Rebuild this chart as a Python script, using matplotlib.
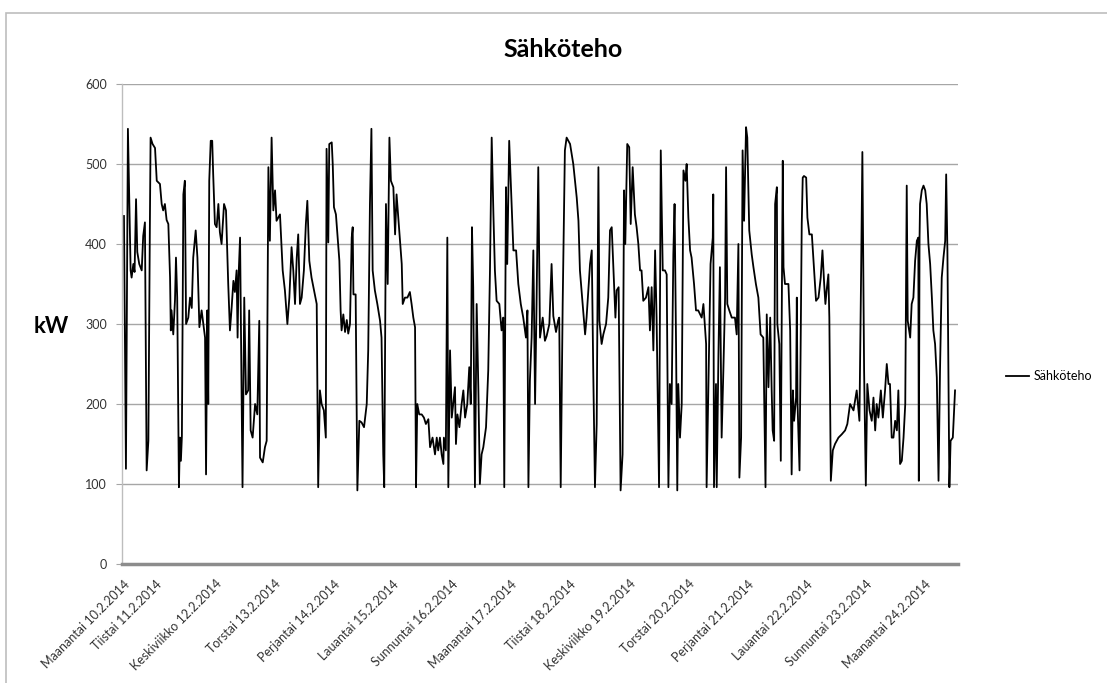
import matplotlib
matplotlib.use("Agg")
import matplotlib.pyplot as plt
from matplotlib.patches import Rectangle

# Electric power readings: hours since the first reading (Mon 10.2.2014 ~12:00) and power in kW
hours = [
    0.0, 0.8, 1.6, 2.7, 3.1, 3.8, 4.3, 4.9, 5.4, 6.2, 7.2, 7.8, 8.5, 9.2, 9.9, 10.5, 10.8, 11.6,
    12.6, 13.3, 14.6, 15.3, 15.9, 16.6, 17.3, 18.0, 18.7, 19.0, 19.3, 20.0, 20.7, 21.1, 21.6,
    22.3, 22.7, 23.1, 23.5, 24.1, 24.7, 25.2, 26.1, 26.8, 27.5, 28.1, 29.1, 29.8, 30.6, 31.5,
    32.2, 32.9, 33.3, 33.8, 34.2, 34.6, 35.2, 35.8, 36.2, 36.9, 37.6, 38.3, 38.9, 39.6, 40.6,
    41.4, 42.3, 43.0, 43.7, 44.4, 45.0, 45.7, 46.1, 46.5, 47.1, 48.1, 48.8, 49.5, 50.4, 50.8,
    51.4, 52.2, 53.2, 54.1, 54.9, 55.2, 56.3, 57.2, 57.9, 58.6, 59.2, 59.9, 60.6, 61.3, 61.9,
    63.3, 64.4, 65.3, 66.3, 67.1, 68.0, 68.7, 69.4, 70.1, 70.7, 71.4, 72.1, 73.0, 73.8, 74.4,
    75.2, 76.1, 77.1, 78.2, 78.8, 79.5, 80.2, 81.1, 81.9,
    82.2, 82.9, 83.3, 84.3, 84.7, 85.2, 86.0, 86.6, 87.4, 87.9, 88.3, 89.0, 89.7, 90.4, 91.0,
    91.7, 92.4, 92.8, 93.1, 94.0, 94.7, 95.5, 96.4, 97.4, 98.5, 99.1, 99.8, 100.4, 100.9,
    101.8, 102.8, 103.9, 104.5, 105.2, 105.6, 106.3, 107.0, 107.7, 108.3, 109.3, 110.0, 110.6,
    111.3, 112.0, 112.7, 113.1, 114.0, 115.0, 116.0, 116.7, 117.4, 118.1, 118.5, 119.0, 119.8,
    120.8, 121.7, 122.5, 123.5, 124.2, 125.2, 126.2, 126.9, 127.5, 128.2, 128.9, 129.6, 129.8,
    130.6, 131.2, 131.6, 132.3, 133.0, 133.6, 134.3, 134.7, 135.3, 136.1, 137.0, 137.7, 138.4,
    139.3, 140.1, 140.7, 141.2, 141.7, 142.4, 143.1, 143.8, 144.4, 145.1, 145.8, 146.9, 147.8,
    148.5, 149.2, 149.9, 150.5, 151.2, 152.3, 153.2, 153.9, 154.3, 155.0, 155.5, 156.3, 157.3,
    158.0, 159.1, 160.0, 161.0, 162.0, 163.1, 163.7, 164.1, 164.7, 165.4, 166.1, 166.8, 167.4,
    168.1, 168.8, 169.9, 170.8,
    171.5, 172.6, 173.5, 174.2, 175.3, 176.2, 176.6, 177.2, 178.0, 178.9, 179.6, 181.0, 182.3,
    183.7, 184.4, 185.0, 186.1, 187.1, 187.7, 189.1, 189.8, 190.4, 191.1, 191.8, 192.5, 192.9,
    193.8, 194.5, 195.6, 196.5, 197.2, 197.9, 198.6, 199.4, 199.9, 200.7, 201.5, 202.3, 202.9,
    203.4, 204.2, 205.0, 205.6, 206.4, 207.3, 208.0, 208.7, 209.4, 210.0, 210.7, 211.8, 212.8,
    213.4, 214.1, 214.8, 215.5, 216.1, 217.1, 217.8, 218.6, 219.5, 220.2, 220.9, 221.5, 222.2,
    222.9, 223.4, 224.0, 224.5, 224.9, 225.6, 226.3, 227.0, 227.8, 228.3, 229.0, 229.7, 230.3,
    231.3, 232.1, 233.0, 234.4, 235.1, 236.2, 236.4, 237.1, 238.0, 238.9, 239.1, 239.4, 240.2,
    240.5, 241.2, 241.8, 242.5, 243.2, 243.9, 244.3, 244.8, 245.6, 246.6, 247.9, 248.6, 249.3,
    249.7, 250.4, 251.0, 251.6, 252.4, 252.9, 253.7, 254.7, 255.4, 256.4, 257.4, 258.3, 259.4,
    260.3, 260.8, 261.5, 262.2, 262.8, 263.2, 263.8, 264.2, 264.9, 265.1, 265.9, 266.5, 267.3,
    267.6, 268.2, 269.6, 270.3, 270.9, 271.4, 271.9, 272.7, 273.0, 273.3, 274.1, 275.0, 275.4,
    275.9, 276.8, 277.3, 278.1, 279.1, 280.0, 280.8, 281.8, 282.7, 283.4, 284.1, 284.6, 285.1,
    285.8, 286.2, 286.8, 287.6, 288.5, 289.9, 291.2, 292.6, 293.5, 294.6, 296.0, 297.3, 298.4,
    299.1, 299.6, 300.3, 301.0, 301.6, 302.5, 303.4, 304.1, 304.8, 305.4, 306.1, 307.1, 307.9,
    308.8, 309.5, 310.2, 310.8, 311.5, 312.2, 312.9, 313.6, 314.2, 314.9, 315.6, 316.3, 317.0,
    317.6, 318.0, 319.0, 319.6, 320.3, 321.0, 321.7, 322.3, 322.5, 322.8, 323.0, 323.7, 324.4,
    325.1, 325.7, 326.4, 327.1, 327.8, 328.4, 329.1, 329.8, 330.5, 331.1, 331.8, 332.5, 333.2,
    333.6, 334.1, 334.9, 335.4, 336.3, 337.2,
]

kw = [
    435, 119, 544, 367, 358, 375, 365, 456, 390, 375, 367, 410, 427, 117, 154, 420, 533, 525,
    520, 479, 475, 450, 442, 450, 430, 425, 358, 292, 317, 287, 330, 383, 333,
    96, 158, 129, 160, 462, 479, 300, 308, 333, 320, 383, 417, 383, 296, 317,
    300, 283, 112, 317, 200, 479, 529, 529, 487, 425, 421, 450, 415, 400, 450,
    442, 350, 292, 321, 354, 340, 367, 283, 360, 408, 96, 333, 212, 217, 317,
    167, 158, 200, 187, 304, 133, 127, 146, 154, 496, 404, 533, 442, 467, 429,
    437, 367, 342, 300, 333, 396, 367, 325, 383, 412, 325, 333, 367, 425, 454,
    379, 358, 342, 325, 96, 217, 200, 192, 158,
    519, 402, 525, 527, 500, 446, 437, 412, 379, 317, 292, 312, 290, 305, 288,
    300, 408, 421, 337, 337, 92, 179, 177, 171, 200, 267, 450, 544, 367,
    342, 325, 304, 283, 137, 96, 450, 350, 533, 479, 471, 412, 462,
    433, 404, 375, 325, 333, 333, 340, 325, 308, 296, 96, 200, 187,
    187, 183, 175, 181, 146, 158, 137, 158, 142, 158, 137, 125, 158,
    142, 408, 96, 267, 183, 200, 221, 150, 187, 171, 200, 217, 183,
    200, 246, 200, 421, 346, 96, 325, 217, 100, 137, 146, 171, 242,
    367, 533, 437, 367, 329, 325, 292, 308, 96, 471, 375, 529, 450,
    392, 392, 350, 325, 308, 283, 317, 96, 229, 283, 392, 200, 325,
    496, 283, 308, 279,
    285, 300, 375, 310, 290, 305, 308, 96, 325, 517, 533, 525, 500,
    458, 429, 367, 325, 287, 308, 375, 392, 242, 96, 175, 496, 304,
    275, 287, 300, 333, 417, 421, 367, 308, 342, 346, 92, 137, 467,
    400, 525, 521, 425, 496, 437, 421, 400, 367, 367, 329, 333, 346,
    292, 346, 267, 392, 308, 96, 517, 367, 367, 362, 96, 225, 200,
    387, 450, 275, 92, 225, 158, 200, 492, 479, 500, 433, 392, 383,
    350, 317, 317, 308, 325, 275, 96, 221, 375, 408, 462, 96, 225,
    96, 262, 371, 158, 242, 333, 496, 325, 317, 308, 308, 287, 400,
    108, 158, 517, 429, 546, 533, 417, 387, 371, 350, 333, 287, 283,
    96, 312, 221, 308, 217, 167, 154, 450, 471, 300, 275, 129, 504,
    371, 350, 350, 292, 112, 217, 179, 208, 333, 200, 117, 425, 483,
    485, 483, 433, 412, 412, 367, 329, 333, 358, 392, 350, 325, 342,
    362, 308, 104, 142, 150, 158, 162, 167, 175, 200, 192, 217, 179,
    367, 515, 242, 98, 225, 192, 179, 208, 167, 200, 183, 217, 183,
    217, 250, 225, 225, 158, 158, 179, 167, 217, 125, 129, 158, 200,
    473, 304, 283, 325, 333, 379, 404, 408, 104, 408, 450, 467, 473,
    467, 450, 400, 375, 333, 292, 275, 233, 104, 242, 358, 383, 404,
    487, 392, 96, 154, 158, 217,
]

# Day labels and the hour at which each one sits on the category axis
day_labels = [
    "Maanantai 10.2.2014", "Tiistai 11.2.2014", "Keskiviikko 12.2.2014", "Torstai 13.2.2014",
    "Perjantai 14.2.2014", "Lauantai 15.2.2014", "Sunnuntai 16.2.2014", "Maanantai 17.2.2014",
    "Tiistai 18.2.2014", "Keskiviikko 19.2.2014", "Torstai 20.2.2014", "Perjantai 21.2.2014",
    "Lauantai 22.2.2014", "Sunnuntai 23.2.2014", "Maanantai 24.2.2014",
]
day_hours = [0, 13, 37, 61, 85, 109, 133, 157, 181, 205, 229, 253, 277, 301, 325]
y_ticks = [0, 100, 200, 300, 400, 500, 600]

FONT = ["Lato", "DejaVu Sans"]
plt.rcParams["font.family"] = FONT

W, H = 1107, 683
fig = plt.figure(figsize=(W / 100, H / 100), dpi=100)
fig.patch.set_facecolor("white")

# light frame around the chart area
fig.add_artist(Rectangle((6 / W, -0.02), 1.05, 1 - 13 / H + 0.02,
                         transform=fig.transFigure, fill=False,
                         edgecolor="#bdbdbd", linewidth=1.2))

ax = fig.add_axes([122 / W, 1 - 564 / H, (958 - 122) / W, (564 - 84) / H])
line, = ax.plot(hours, kw, color="black", linewidth=1.3, label="Sähköteho")

ax.set_ylim(0, 600)
ax.set_xlim(-0.8, 338.4)
ax.set_yticks(y_ticks)
ax.set_yticklabels([str(v) for v in y_ticks], fontsize=9, color="#333333")
ax.yaxis.grid(True, color="#a6a6a6", linewidth=1.0)
ax.set_axisbelow(True)
ax.tick_params(axis="y", length=4, color="#a6a6a6", pad=7)

ax.set_xticks(day_hours)
ax.set_xticklabels(day_labels, rotation=45, ha="right", va="top",
                   rotation_mode="anchor", fontsize=9, color="#333333")
ax.tick_params(axis="x", length=0, pad=10)

for side in ("top", "right"):
    ax.spines[side].set_visible(False)
ax.spines["left"].set_color("#bdbdbd")
ax.spines["left"].set_linewidth(1.0)
ax.spines["bottom"].set_color("#8c8c8c")
ax.spines["bottom"].set_linewidth(2.5)

fig.text(563 / W, 1 - 57 / H, "Sähköteho", ha="center", va="baseline",
         fontsize=18, fontweight="bold")
fig.text(51 / W, 1 - 333 / H, "kW", ha="center", va="baseline",
         fontsize=16, fontweight="bold")

fig.legend(handles=[line], labels=["Sähköteho"], loc="center left",
           bbox_to_anchor=(1000 / W, 1 - 376 / H), frameon=False,
           fontsize=9, handlelength=1.8, handletextpad=0.4, borderpad=0)

fig.savefig("out.png", dpi=100)
